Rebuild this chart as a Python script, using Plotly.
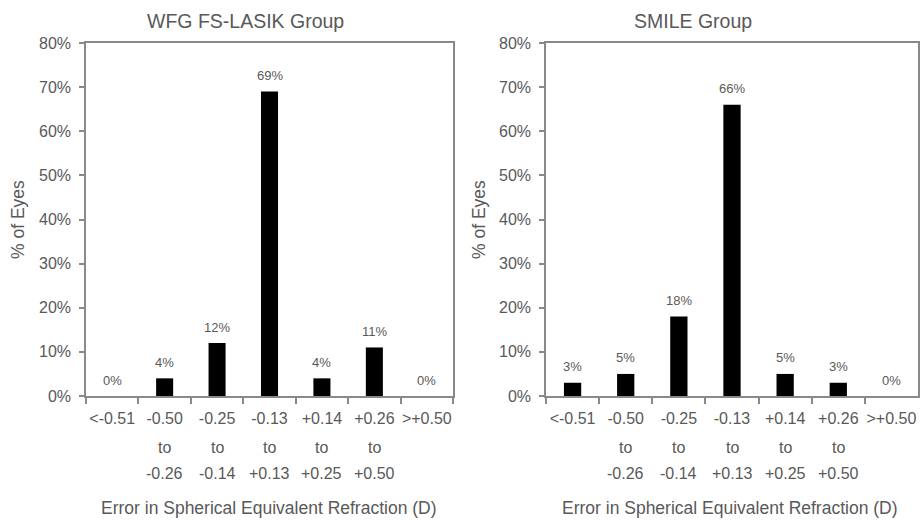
import plotly.graph_objects as go

# ---- data ----
categories = ["<-0.51", "-0.50 to -0.26", "-0.25 to -0.14", "-0.13 to +0.13",
              "+0.14 to +0.25", "+0.26 to +0.50", ">+0.50"]
line1 = ["<-0.51", "-0.50", "-0.25", "-0.13", "+0.14", "+0.26", ">+0.50"]
line2 = ["", "to", "to", "to", "to", "to", ""]
line3 = ["", "-0.26", "-0.14", "+0.13", "+0.25", "+0.50", ""]
lasik_pct = [0, 4, 12, 69, 4, 11, 0]
smile_pct = [3, 5, 18, 66, 5, 3, 0]
titles = ["WFG FS-LASIK Group", "SMILE Group"]
y_title = "% of Eyes"
x_title = "Error in Spherical Equivalent Refraction (D)"

FONT = "Arial, Liberation Sans, sans-serif"
TXT = "#595959"
AX = "#898989"
W, H = 922, 520
top, bottom = 43, 396
plot_h = bottom - top

def py(pix):
    return (bottom - pix) / plot_h

def px(pix):
    return pix / W

domains = [(px(86), px(453)), (px(546), px(918))]
title_x = [px(246), px(693)]
ytitle_x = [px(18), px(479)]
xtitle_x = [px(269), px(730)]

fig = go.Figure()
annotations = []
for i, (vals, dom) in enumerate(zip([lasik_pct, smile_pct], domains)):
    xa = "x" if i == 0 else "x2"
    ya = "y" if i == 0 else "y2"
    fig.add_trace(go.Bar(
        x=categories, y=[v / 100 for v in vals], xaxis=xa, yaxis=ya,
        marker=dict(color="black", line=dict(width=0)),
        showlegend=False, hoverinfo="skip",
    ))
    for c, v in zip(categories, vals):
        annotations.append(dict(x=c, y=v / 100, xref=xa, yref=ya, text=f"{v}%",
                                showarrow=False, yshift=16, xanchor="center", yanchor="middle",
                                font=dict(family=FONT, size=13, color=TXT)))
    for c, l2, l3 in zip(categories, line2, line3):
        if l2:
            annotations.append(dict(x=c, y=py(447), xref=xa, yref="paper", text=l2,
                                    showarrow=False, xanchor="center", yanchor="middle",
                                    font=dict(family=FONT, size=16, color=TXT)))
        if l3:
            annotations.append(dict(x=c, y=py(474), xref=xa, yref="paper", text=l3,
                                    showarrow=False, xanchor="center", yanchor="middle",
                                    font=dict(family=FONT, size=16, color=TXT)))
    annotations.append(dict(x=xtitle_x[i], y=py(508), xref="paper", yref="paper",
                            text=x_title, showarrow=False, xanchor="center", yanchor="middle",
                            font=dict(family=FONT, size=17.5, color=TXT)))
    annotations.append(dict(x=ytitle_x[i], y=py(220), xref="paper", yref="paper",
                            text=y_title, showarrow=False, textangle=-90,
                            xanchor="center", yanchor="middle",
                            font=dict(family=FONT, size=17.5, color=TXT)))
    annotations.append(dict(x=title_x[i], y=py(21), xref="paper", yref="paper",
                            text=titles[i], showarrow=False, xanchor="center", yanchor="middle",
                            font=dict(family=FONT, size=19.5, color=TXT)))

xaxis_common = dict(
    type="category", categoryorder="array", categoryarray=categories,
    range=[-0.5, 6.5], tickmode="array", tickvals=categories, ticktext=line1,
    tickson="boundaries", ticks="outside", ticklen=6, tickcolor=AX, tickwidth=1.5,
    tickangle=0, automargin=False, ticklabelstandoff=7,
    showline=True, linecolor=AX, linewidth=1.5, mirror=True, showgrid=False,
    tickfont=dict(family=FONT, size=16, color=TXT), fixedrange=True,
)
yaxis_common = dict(
    range=[0, 0.8], dtick=0.1, tickformat=".0%", ticks="outside", ticklen=5,
    tickcolor=AX, tickwidth=1.5, showline=True, linecolor=AX, linewidth=1.5,
    mirror=True, showgrid=False, zeroline=False, automargin=False,
    ticklabelstandoff=5,
    tickfont=dict(family=FONT, size=16, color=TXT), fixedrange=True,
)

fig.update_layout(
    width=W, height=H,
    margin=dict(l=0, r=0, t=top, b=H - bottom, autoexpand=False),
    paper_bgcolor="white", plot_bgcolor="white",
    bargap=0.675,
    xaxis=dict(domain=list(domains[0]), anchor="y", **xaxis_common),
    yaxis=dict(domain=[0, 1], anchor="x", **yaxis_common),
    xaxis2=dict(domain=list(domains[1]), anchor="y2", **xaxis_common),
    yaxis2=dict(domain=[0, 1], anchor="x2", **yaxis_common),
    annotations=annotations,
)

fig.write_html(
    "out.html",
    config={"displayModeBar": False},
    post_script="document.body.style.margin='0';document.body.style.overflow='hidden';",
)
